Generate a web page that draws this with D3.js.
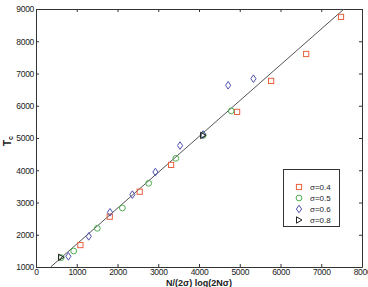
<!DOCTYPE html>
<html><head><meta charset="utf-8">
<script src="https://cdn.jsdelivr.net/npm/d3@7"></script>
<style>body{margin:0;background:#fff;} svg{display:block;}</style>
</head><body>
<svg id="c" width="368" height="287"></svg>
<script>
// Data
const sigma04X = [1090, 1810, 2545, 3315, 4935, 5770, 6630, 7485];
const sigma04Y = [1680, 2560, 3335, 4165, 5810, 6770, 7605, 8755];
const sigma05X = [620, 925, 1505, 2120, 2765, 3430, 4100, 4790];
const sigma05Y = [1290, 1495, 2200, 2830, 3595, 4370, 5080, 5840];
const sigma06X = [795, 1295, 1815, 2365, 2930, 3535, 4100, 4715, 5335];
const sigma06Y = [1330, 1950, 2695, 3245, 3945, 4765, 5110, 6635, 6840];
const sigma08X = [615, 4100];
const sigma08Y = [1300, 5080];
const fitX = [360, 7558];
const fitY = [1000, 9000];
const xTicks = [0,1000,2000,3000,4000,5000,6000,7000,8000];
const yTicks = [1000,2000,3000,4000,5000,6000,7000,8000,9000];
const legendLabels = ["σ=0.4","σ=0.5","σ=0.6","σ=0.8"];

const W=368,H=287, L=36,R=362,T=9,B=267;
const svg=d3.select("#c");
const x=d3.scaleLinear().domain([0,8000]).range([L,R]);
const y=d3.scaleLinear().domain([1000,9000]).range([B,T]);
const font="Liberation Sans, Arial, sans-serif";
const axc="#333";
const fmt=d3.format("d");

// axes
const ax=svg.append("g").attr("transform",`translate(0,${B})`).call(d3.axisBottom(x).tickValues(xTicks).tickFormat(fmt).tickSizeInner(-3).tickSizeOuter(0).tickPadding(2));
const axT=svg.append("g").attr("transform",`translate(0,${T})`).call(d3.axisTop(x).tickValues(xTicks).tickSizeInner(-3).tickSizeOuter(0).tickFormat(""));
const ay=svg.append("g").attr("transform",`translate(${L},0)`).call(d3.axisLeft(y).tickValues(yTicks).tickFormat(fmt).tickSizeInner(-3).tickSizeOuter(0).tickPadding(2));
const ayR=svg.append("g").attr("transform",`translate(${R},0)`).call(d3.axisRight(y).tickValues(yTicks).tickSizeInner(-3).tickSizeOuter(0).tickFormat(""));
[ax,axT,ay,ayR].forEach(g=>{
  g.selectAll("path").attr("stroke",axc).attr("stroke-width",1);
  g.selectAll("line").attr("stroke",axc);
  g.selectAll("text").attr("font-family",font).attr("font-size","8.5px").attr("fill","#222").attr("letter-spacing","-0.3px");
});
ay.selectAll("text").attr("dy","0.35em");

// fit line
svg.append("line").attr("x1",x(fitX[0])).attr("y1",y(fitY[0])).attr("x2",x(fitX[1])).attr("y2",y(fitY[1]))
  .attr("stroke","#555").attr("stroke-width",1);

const colors=["#e8603c","#4caf50","#5050b0","#222"];
function marker(g,i,cx,cy){
  if(i===2){
    g.append("path").attr("d",`M${cx},${cy-3.8}L${cx+2.6},${cy}L${cx},${cy+3.8}L${cx-2.6},${cy}Z`)
      .attr("fill","none").attr("stroke",colors[i]).attr("stroke-width",1);
  } else if(i===3){
    g.append("path").attr("d",`M${cx-2.5},${cy-3.2}L${cx+3},${cy}L${cx-2.5},${cy+3.2}Z`)
      .attr("fill","none").attr("stroke",colors[i]).attr("stroke-width",1);
  } else if(i===0){
    g.append("rect").attr("x",cx-2.6).attr("y",cy-2.6).attr("width",5.2).attr("height",5.2)
      .attr("fill","none").attr("stroke",colors[i]).attr("stroke-width",1);
  } else {
    g.append("circle").attr("cx",cx).attr("cy",cy).attr("r",2.9)
      .attr("fill","none").attr("stroke",colors[i]).attr("stroke-width",1);
  }
}
const series=[[sigma04X,sigma04Y],[sigma05X,sigma05Y],[sigma06X,sigma06Y],[sigma08X,sigma08Y]];
const pg=svg.append("g");
series.forEach((s,i)=>{ s[0].forEach((xv,j)=>marker(pg,i,x(xv),y(s[1][j]))); });

// legend
const lg=svg.append("g");
lg.append("rect").attr("x",283.5).attr("y",169.5).attr("width",56).attr("height",57).attr("fill","#fff").attr("stroke",axc).attr("stroke-width",1);
legendLabels.forEach((t,i)=>{
  const cy=187+i*11;
  marker(lg,i,299,cy);
  lg.append("text").attr("x",310).attr("y",cy).attr("dy","0.35em").attr("font-family",font).attr("font-size","8px").attr("fill","#222").text(t);
});

// labels
svg.append("text").attr("x",199).attr("y",286).attr("text-anchor","middle").attr("font-family",font).attr("font-size","9px").attr("font-weight","bold").attr("fill","#222").text("N/(2σ) log(2Nσ)");
const yl=svg.append("text").attr("transform","translate(11,141) rotate(-90)").attr("text-anchor","middle").attr("font-family",font).attr("font-weight","bold").attr("fill","#222");
yl.append("tspan").attr("font-size","10px").text("T");
yl.append("tspan").attr("font-size","7px").attr("dy","2").text("c");
</script>
</body></html>
